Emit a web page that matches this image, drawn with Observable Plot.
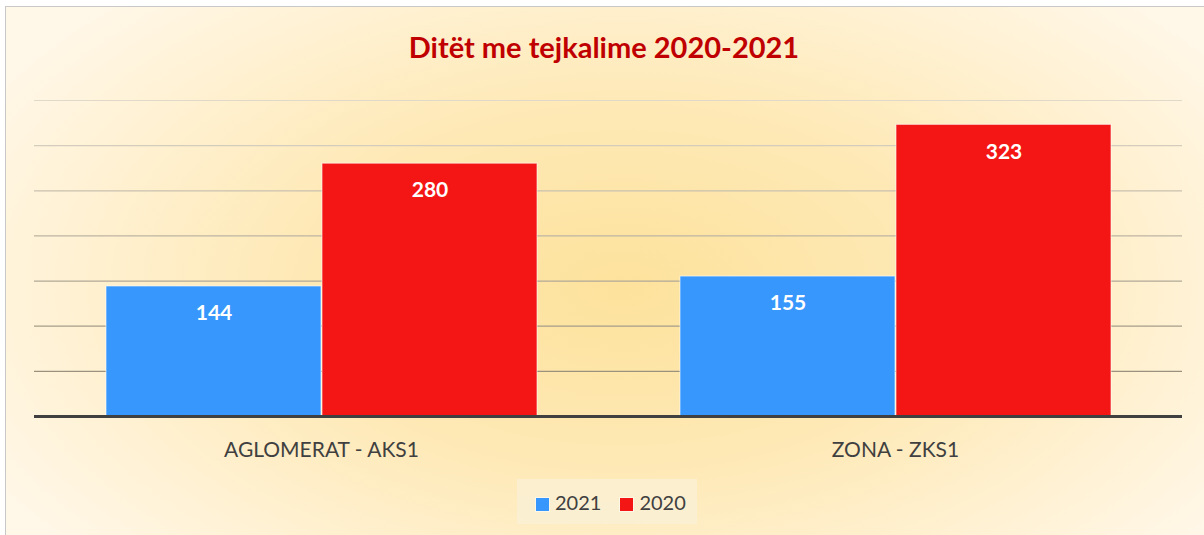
<!DOCTYPE html>
<html>
<head>
<meta charset="utf-8">
<script src="https://cdn.jsdelivr.net/npm/d3@7"></script>
<script src="https://cdn.jsdelivr.net/npm/@observablehq/plot@0.6"></script>
<style>
  html, body { margin: 0; padding: 0; background: #ffffff; }
  #wrap { position: relative; width: 1204px; height: 535px; overflow: hidden; font-family: Lato, "Open Sans", sans-serif; }
  #frame { position: absolute; left: 5px; top: 6px; width: 1210px; height: 540px; border: 1px solid #c8c8c8;
    background: radial-gradient(ellipse 60% 75% at 51% 52%, #fde29c 0%, #fee9b6 45%, #fff2d6 80%, #fff7e8 100%); }
  #title { position: absolute; left: 2px; width: 1204px; top: 29px; text-align: center; font-size: 29px; font-weight: bold; color: #c00000; }
  #chart { position: absolute; left: 0; top: 80px; }
  #legend { position: absolute; left: 517px; top: 479px; width: 161px; height: 45px; padding-left: 19px; background: rgba(250,240,215,0.75);
    display: flex; align-items: center; font-size: 20px; color: #404040; }
  .sw { display: inline-block; width: 13px; height: 13px; margin-right: 6px; vertical-align: -1px; }
  .it { margin-right: 19px; white-space: nowrap; }
</style>
</head>
<body>
<div id="wrap">
  <div id="frame"></div>
  <div id="title">Ditët me tejkalime 2020-2021</div>
  <div id="chart"></div>
  <div id="legend"></div>
</div>
<script>
const categories = ["AGLOMERAT - AKS1", "ZONA - ZKS1"];
const years = ["2021", "2020"];
const values2021 = [144, 155];
const values2020 = [280, 323];
const yTicks = [50, 100, 150, 200, 250, 300, 350];
const colors = ["#3797fd", "#f41515"];

const data = [];
categories.forEach((c, i) => {
  data.push({cat: c, year: years[0], value: values2021[i]});
  data.push({cat: c, year: years[1], value: values2020[i]});
});

const gridColor = d3.scaleLinear().domain([50, 350]).range(["#9a927e", "#e0d8c8"]);

const plot = Plot.plot({
  width: 1204,
  height: 390,
  marginTop: 20,
  marginBottom: 54,
  marginLeft: 33,
  marginRight: 22,
  style: {background: "transparent", fontFamily: "Lato, 'Open Sans', sans-serif"},
  fx: {domain: categories, padding: 0, label: null},
  x: {domain: years, paddingInner: 0.005, paddingOuter: 0.33, axis: null},
  y: {domain: [0, 350], axis: null},
  color: {domain: years, range: colors},
  marks: [
    Plot.ruleY(yTicks, {stroke: d => gridColor(d), strokeWidth: 1.2}),
    Plot.barY(data, {fx: "cat", x: "year", y: "value", fill: "year", stroke: "#ffffff", strokeOpacity: 0.6, strokeWidth: 1}),
    Plot.text(data, {fx: "cat", x: "year", y: "value", text: d => String(d.value), dy: 27, fill: "white", fontWeight: "bold", fontSize: 21}),
    Plot.ruleY([0], {stroke: "#404040", strokeWidth: 3}),
    Plot.axisFx({anchor: "bottom", tickSize: 0, tickPadding: 26, fontSize: 21, fill: "#404040", label: null})
  ]
});
document.getElementById("chart").appendChild(plot);

const legend = document.getElementById("legend");
years.forEach((y, i) => {
  const s = document.createElement("span");
  s.className = "it";
  s.innerHTML = `<span class="sw" style="background:${colors[i]};outline:1px solid rgba(255,255,255,0.5)"></span>${y}`;
  legend.appendChild(s);
});
</script>
</body>
</html>
